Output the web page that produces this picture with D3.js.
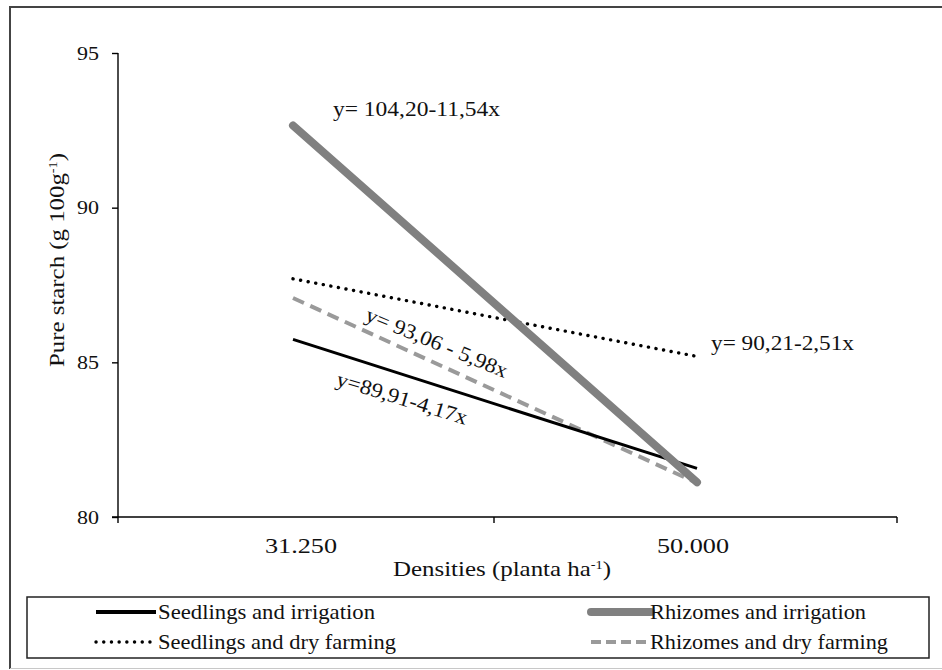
<!DOCTYPE html>
<html>
<head>
<meta charset="utf-8">
<script src="https://cdn.jsdelivr.net/npm/d3@7"></script>
<style>
  html, body { margin: 0; padding: 0; background: #fff; }
  svg { display: block; }
  text { font-family: "Liberation Serif", "Times New Roman", serif; fill: #111; }
</style>
</head>
<body>
<svg id="chart" width="942" height="670"></svg>
<script>
// Planting densities (categories on the x axis)
const densities = ["31.250", "50.000"];

// Pure starch (g 100g-1) for each treatment at each density
const seedlingsIrrigation = [85.74, 81.57];
const rhizomesIrrigation  = [92.66, 81.12];
const seedlingsDry        = [87.70, 85.19];
const rhizomesDry         = [87.08, 81.10];

const yTicks = [80, 85, 90, 95];

const seriesNames = [
  "Seedlings and irrigation",
  "Rhizomes and irrigation",
  "Seedlings and dry farming",
  "Rhizomes and dry farming"
];

const equations = [
  "y=89,91-4,17x",
  "y= 104,20-11,54x",
  "y= 90,21-2,51x",
  "y= 93,06 - 5,98x"
];

const svg = d3.select("#chart");

// outer frame
svg.append("line").attr("x1", 10).attr("x2", 942).attr("y1", 7).attr("y2", 7)
  .attr("stroke", "#444").attr("stroke-width", 2);
svg.append("line").attr("x1", 10).attr("x2", 10).attr("y1", 6).attr("y2", 669)
  .attr("stroke", "#444").attr("stroke-width", 2);
svg.append("line").attr("x1", 10).attr("x2", 942).attr("y1", 668.5).attr("y2", 668.5)
  .attr("stroke", "#c8c8c8").attr("stroke-width", 1);

const x = d3.scalePoint().domain(densities).range([293, 697]);
const y = d3.scaleLinear().domain([80, 95]).range([517, 53]);

const axisLeftX = 118, axisRightX = 897, midTickX = 494;

// y axis
const yAxis = svg.append("g")
  .attr("transform", `translate(${axisLeftX},0)`)
  .call(d3.axisLeft(y).tickValues(yTicks).tickSize(6).tickPadding(13).tickFormat(d3.format("d")));
yAxis.select(".domain").attr("d", `M0,${y(95)}V${y(80) + 6}`).attr("stroke", "#000").attr("stroke-width", 1.4);
yAxis.selectAll(".tick line").attr("stroke", "#000").attr("stroke-width", 1.4);
yAxis.selectAll(".tick text")
  .style("font-family", "Liberation Serif, serif").style("font-size", "19px").attr("fill", "#222")
  .attr("textLength", 22).attr("lengthAdjust", "spacingAndGlyphs");

// x axis (ticks sit between the categories)
const xAxisG = svg.append("g");
xAxisG.append("line").attr("x1", 112).attr("x2", axisRightX).attr("y1", y(80)).attr("y2", y(80))
  .attr("stroke", "#000").attr("stroke-width", 1.4);
[midTickX, axisRightX].forEach(t => {
  xAxisG.append("line").attr("x1", t).attr("x2", t).attr("y1", y(80)).attr("y2", y(80) + 6)
    .attr("stroke", "#000").attr("stroke-width", 1.4);
});
xAxisG.selectAll("text.xlab").data(densities).join("text")
  .attr("class", "xlab")
  .attr("x", (d, i) => x(d) + (i === 0 ? 8 : -4))
  .attr("y", 553)
  .attr("text-anchor", "middle")
  .style("font-size", "21px")
  .attr("textLength", 72).attr("lengthAdjust", "spacingAndGlyphs")
  .text(d => d);

// axis titles
const xTitle = svg.append("text")
  .attr("x", 393).attr("y", 576)
  .style("font-size", "21px")
  .attr("textLength", 218).attr("lengthAdjust", "spacingAndGlyphs");
xTitle.append("tspan").text("Densities  (planta ha");
xTitle.append("tspan").attr("dy", -7).style("font-size", "12px").text("-1");
xTitle.append("tspan").attr("dy", 7).text(")");

const yTitle = svg.append("text")
  .attr("transform", "translate(64,367) rotate(-90)")
  .style("font-size", "21px")
  .attr("textLength", 214).attr("lengthAdjust", "spacingAndGlyphs");
yTitle.append("tspan").text("Pure starch  (g 100g");
yTitle.append("tspan").attr("dy", -7).style("font-size", "12px").text("-1");
yTitle.append("tspan").attr("dy", 7).text(")");

// series
const styles = [
  { values: seedlingsIrrigation, stroke: "#000",    width: 3,   dash: null,     cap: "butt" },
  { values: rhizomesIrrigation,  stroke: "#808080", width: 8,   dash: null,     cap: "round" },
  { values: seedlingsDry,        stroke: "#000",    width: 3.4, dash: "0.1,7.6", cap: "round" },
  { values: rhizomesDry,         stroke: "#9a9a9a", width: 4,   dash: "12,7",   cap: "butt" }
];

const line = d3.line().x(d => x(d.cat)).y(d => y(d.v));

// draw order: dry-farming series first, irrigation on top
[3, 2, 0, 1].forEach(i => {
  const s = styles[i];
  svg.append("path")
    .datum(densities.map((c, j) => ({ cat: c, v: s.values[j] })))
    .attr("d", line)
    .attr("fill", "none")
    .attr("stroke", s.stroke)
    .attr("stroke-width", s.width)
    .attr("stroke-linecap", s.cap)
    .attr("stroke-dasharray", s.dash);
});

// regression equations
const eqLayout = [
  { x: 335, y: 385, rot: 17,   len: 136 },
  { x: 333, y: 116, rot: 0,    len: 167 },
  { x: 711, y: 350, rot: 0,    len: 143 },
  { x: 364, y: 320, rot: 22.5, len: 152 }
];
equations.forEach((t, i) => {
  const p = eqLayout[i];
  svg.append("text")
    .attr("transform", `translate(${p.x},${p.y}) rotate(${p.rot})`)
    .style("font-size", "21px")
    .attr("textLength", p.len).attr("lengthAdjust", "spacingAndGlyphs")
    .text(t);
});

// legend
const legend = svg.append("g");
legend.append("rect").attr("x", 27).attr("y", 597).attr("width", 902).attr("height", 61)
  .attr("fill", "none").attr("stroke", "#222").attr("stroke-width", 1.5);

const legendPos = [
  { lx: 96,  ly: 612, tx: 158, len: 217 },
  { lx: 591, ly: 612, tx: 650, len: 216 },
  { lx: 96,  ly: 642, tx: 158, len: 238 },
  { lx: 591, ly: 642, tx: 650, len: 238 }
];
seriesNames.forEach((name, i) => {
  const s = styles[i], p = legendPos[i];
  legend.append("line")
    .attr("x1", p.lx).attr("x2", p.lx + 60).attr("y1", p.ly).attr("y2", p.ly)
    .attr("stroke", s.stroke)
    .attr("stroke-width", i === 0 ? 4 : s.width)
    .attr("stroke-linecap", s.cap)
    .attr("stroke-dasharray", i === 3 ? "10,5" : s.dash);
  legend.append("text")
    .attr("x", p.tx).attr("y", p.ly + 7)
    .style("font-size", "21px")
    .attr("textLength", p.len).attr("lengthAdjust", "spacingAndGlyphs")
    .text(name);
});
</script>
</body>
</html>
